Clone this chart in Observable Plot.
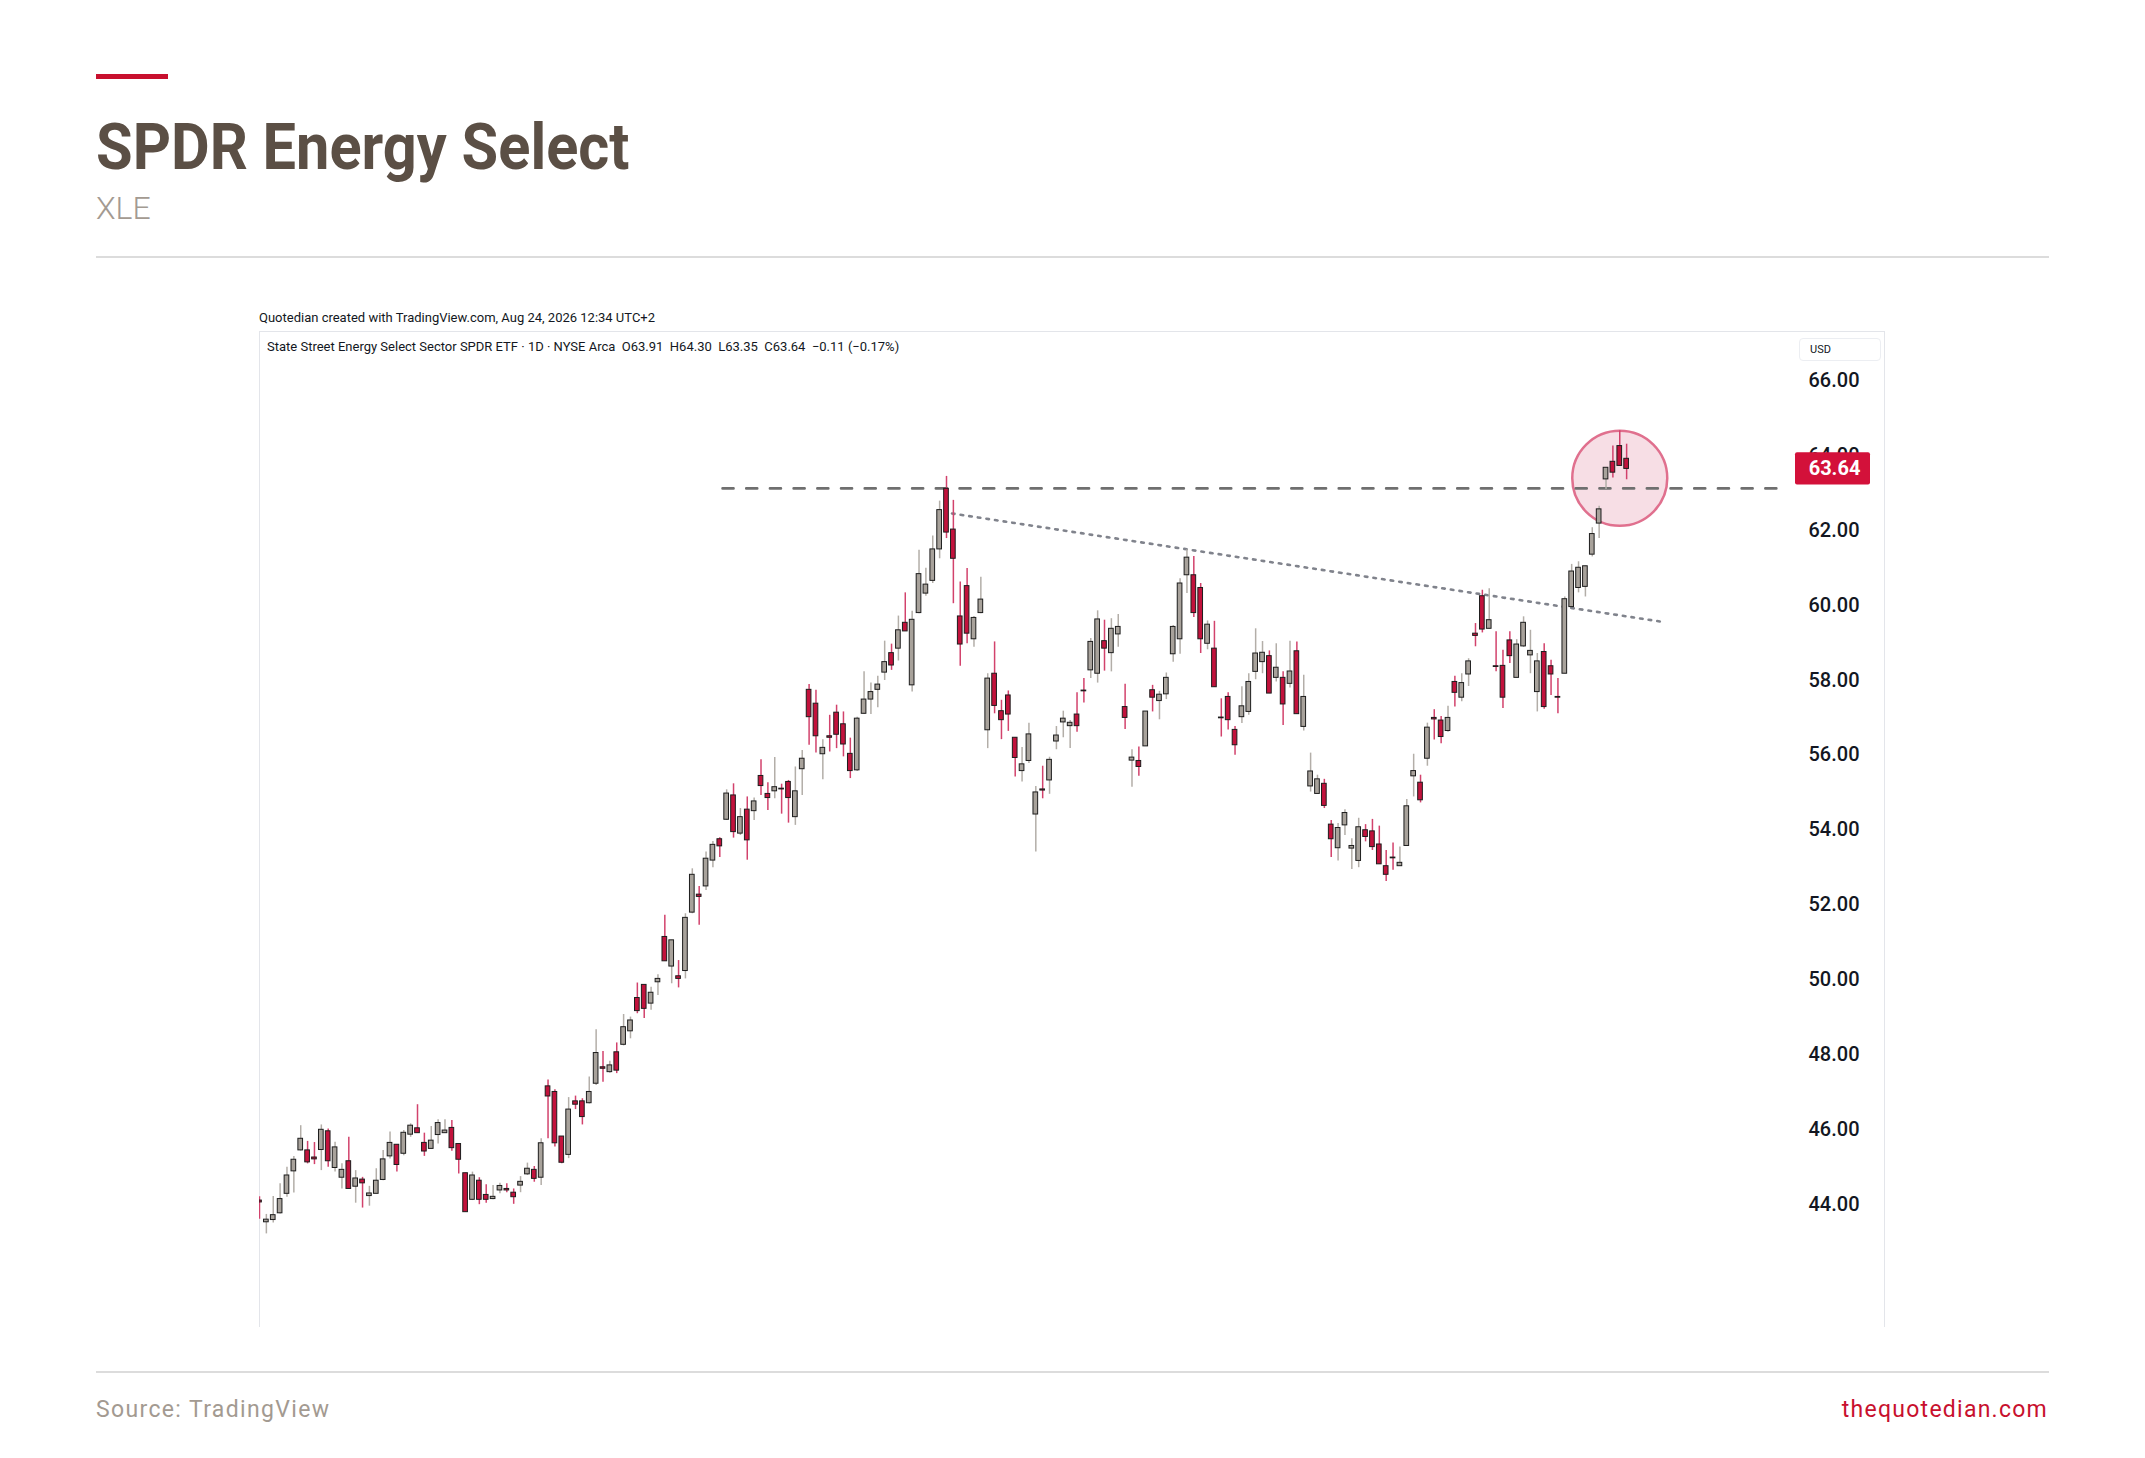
<!DOCTYPE html>
<html><head><meta charset="utf-8">
<script src="https://cdn.jsdelivr.net/npm/d3@7"></script>
<script src="https://cdn.jsdelivr.net/npm/@observablehq/plot@0.6"></script>
<style>
html,body{margin:0;padding:0;background:#fff;}
#page{position:relative;width:2145px;height:1458px;overflow:hidden;font-family:Roboto,"Noto Sans",sans-serif;}
.abs{position:absolute;white-space:nowrap;}
#bar{left:96px;top:74px;width:72px;height:5px;background:#c8102e;}
#title{left:96px;top:116px;font-size:64px;line-height:64px;font-weight:700;color:#5b4f45;transform:scaleX(0.93);transform-origin:left center;}
#sub{left:96px;top:192px;font-size:32px;line-height:32px;font-weight:300;color:#a39a91;}
.rule{height:2px;background:#dcdcdc;left:96px;width:1953px;}
#credit{left:259px;top:311px;font-size:13px;line-height:13px;color:#131722;}
#frame{left:259px;top:331px;width:1626px;height:996px;border-left:1px solid #e3e5ea;border-right:1px solid #e3e5ea;border-top:1px solid #e3e5ea;box-sizing:border-box;}
#legend{left:267px;top:340px;font-size:13px;line-height:13px;color:#131722;}
#usd{left:1799px;top:338px;width:82px;height:23px;box-sizing:border-box;border:1px solid #eceef2;border-radius:4px;font-size:11px;line-height:21px;padding-left:10px;color:#131722;}
#chart{left:259px;top:331px;}
#source{left:96px;top:1398px;font-size:23px;line-height:23px;color:#a39a91;letter-spacing:1.35px;}
#site{right:97px;top:1398px;font-size:23px;line-height:23px;color:#c8102e;letter-spacing:1.25px;}
</style></head>
<body><div id="page">
<div id="bar" class="abs"></div>
<div id="title" class="abs">SPDR Energy Select</div>
<div id="sub" class="abs">XLE</div>
<div class="abs rule" style="top:256px"></div>
<div id="credit" class="abs">Quotedian created with TradingView.com, Aug 24, 2026 12:34 UTC+2</div>
<div id="frame" class="abs"></div>
<div id="chart" class="abs"></div>
<div id="legend" class="abs">State Street Energy Select Sector SPDR ETF · 1D · NYSE Arca&nbsp;&nbsp;O63.91&nbsp;&nbsp;H64.30&nbsp;&nbsp;L63.35&nbsp;&nbsp;C63.64&nbsp;&nbsp;−0.11 (−0.17%)</div>
<div id="usd" class="abs">USD</div>
<div class="abs rule" style="top:1371px"></div>
<div id="source" class="abs">Source: TradingView</div>
<div id="site" class="abs">thequotedian.com</div>
</div>
<script>
const openP = [44.1,43.52,43.58,43.76,44.28,44.88,45.44,45.44,45.25,45.45,45.95,44.97,44.71,45.15,44.47,44.66,44.22,44.28,44.65,45.28,45.59,45.35,45.86,46.03,45.64,45.48,45.85,45.9,46.04,45.61,44.83,44.12,44.63,44.25,44.14,
44.37,44.41,44.31,44.5,44.8,44.92,44.71,47.15,47.0,45.81,45.32,46.75,46.75,46.7,47.22,47.66,47.53,48.06,48.26,48.62,49.51,49.86,49.36,49.93,51.14,50.35,50.09,50.23,51.79,52.27,52.49,53.18,53.75,54.27,
54.92,53.9,54.54,54.5,55.44,54.96,55.03,55.1,55.28,54.34,55.62,57.74,57.37,56.02,56.5,57.13,56.82,56.03,55.59,57.1,57.48,57.74,58.2,58.72,58.84,59.53,57.86,59.79,60.31,60.65,61.49,63.11,62.02,59.7,
60.51,59.09,59.79,56.66,58.17,57.17,57.59,56.46,55.57,55.84,54.41,55.08,55.32,56.36,56.87,56.77,57.08,57.72,58.26,58.17,59.04,58.72,59.22,57.28,55.85,55.84,56.23,57.73,57.44,57.62,58.69,59.09,60.8,
60.8,60.46,58.97,58.84,57.0,57.55,56.67,57.01,57.15,58.22,58.48,58.64,58.06,58.06,57.9,58.77,56.75,55.16,54.96,55.23,54.14,53.51,54.12,53.5,53.17,53.99,53.96,53.61,53.03,53.26,53.03,53.57,55.43,55.26,
55.9,56.99,56.92,56.64,57.95,57.53,58.15,59.24,60.24,59.37,58.37,58.38,59.06,58.06,58.9,58.66,57.68,58.75,58.37,57.55,58.17,59.95,60.46,60.49,61.35,62.18,63.36,63.83,64.25,63.91];
const highP = [44.2,43.73,44.21,44.55,44.99,45.28,46.1,45.68,45.65,46.12,46.01,45.66,45.08,45.79,44.9,44.72,44.48,44.95,45.44,45.93,45.59,45.97,46.15,46.66,45.9,46.08,46.26,46.26,46.24,45.61,44.83,44.86,44.71,44.52,44.5,
44.56,44.55,44.41,44.74,45.1,45.01,45.75,47.32,47.06,45.81,46.85,46.89,46.82,47.4,48.66,48.08,47.82,48.31,49.07,49.0,49.91,49.86,49.8,50.13,51.72,51.05,50.51,51.76,52.96,52.49,53.41,53.69,53.79,55.07,
55.23,54.57,54.88,54.85,55.87,55.26,55.93,55.22,55.32,55.68,56.12,57.88,57.73,56.41,57.06,57.33,57.15,56.45,57.01,58.22,57.92,58.1,59.04,58.96,59.71,60.33,59.84,61.47,60.99,61.85,62.78,63.44,62.8,60.62,
60.98,59.7,60.75,58.17,59.02,57.46,57.71,56.46,56.2,56.85,55.16,55.7,55.94,56.76,57.17,56.92,57.66,58.04,59.11,59.85,59.6,59.64,59.75,57.89,56.14,56.21,57.16,57.86,57.7,58.19,59.46,60.71,61.48,
61.3,60.58,59.58,59.57,57.5,57.66,56.76,57.82,58.17,59.37,59.03,58.78,58.97,58.22,59.04,59.02,58.13,56.05,55.46,55.35,54.25,54.17,54.54,53.76,54.31,54.14,54.28,54.1,53.45,53.65,53.54,54.81,56.02,55.46,
56.85,57.21,57.03,57.3,58.1,58.17,58.57,59.51,60.4,60.44,59.29,58.8,59.29,59.08,59.69,59.33,58.71,58.97,58.53,58.04,60.22,61.09,61.16,61.04,62.07,62.64,63.67,64.25,64.66,64.30];
const lowP = [43.6,43.21,43.5,43.74,44.19,44.3,45.42,45.08,45.06,44.9,44.99,44.86,44.41,44.41,44.03,43.9,43.95,44.28,44.63,45.21,44.86,45.3,45.79,45.9,45.28,45.48,45.61,45.9,45.42,44.81,43.79,44.1,43.99,44.03,44.12,
44.28,44.31,44.0,44.31,44.77,44.59,44.5,45.75,45.53,45.08,45.22,46.53,46.12,46.68,47.17,47.26,47.5,47.49,48.23,48.42,49.09,48.96,49.18,49.58,50.49,49.89,49.78,50.02,51.76,51.45,52.38,52.99,53.26,54.25,
53.78,53.85,53.19,54.25,54.92,54.52,54.83,54.42,54.18,54.12,54.92,56.26,56.05,55.34,56.08,56.17,55.95,55.37,55.56,57.08,57.08,57.26,57.99,58.26,58.51,59.3,57.68,59.77,60.24,60.58,61.24,61.78,60.04,58.37,
58.97,58.88,59.77,56.17,57.1,56.41,56.63,55.41,55.28,55.77,53.41,54.83,54.95,56.14,56.46,56.17,56.61,57.39,58.04,57.92,58.24,58.22,58.88,56.68,55.14,55.43,56.23,57.15,56.94,57.48,58.48,58.69,60.31,
59.67,58.71,58.81,57.81,56.48,56.67,55.99,56.84,57.06,58.01,58.17,57.64,57.95,56.79,57.79,57.09,56.64,55.01,54.96,54.57,53.26,53.17,53.85,52.94,52.99,53.68,53.45,53.08,52.62,52.92,53.03,53.57,54.88,54.72,
55.7,56.4,56.3,56.61,57.28,57.42,57.83,58.89,59.26,59.37,58.22,57.24,58.44,58.06,58.87,58.17,57.15,57.22,57.59,57.1,58.17,59.95,60.33,60.22,61.29,61.78,63.09,63.4,63.71,63.35];
const closeP = [44.05,43.59,43.71,44.14,44.77,45.19,45.75,45.12,45.2,45.99,45.15,45.52,44.92,44.41,44.69,44.56,44.29,44.63,45.2,45.64,45.05,45.91,46.1,45.9,45.41,45.7,46.17,45.97,45.5,45.19,43.79,44.77,44.12,44.12,44.2,
44.49,44.37,44.19,44.6,44.95,44.68,45.63,46.88,45.63,45.11,46.53,46.66,46.33,47.0,48.04,47.62,47.71,47.57,48.73,48.91,49.16,49.22,49.65,50.02,50.49,51.05,50.02,51.65,52.8,52.21,53.23,53.6,53.56,54.97,
53.94,54.34,53.72,54.76,55.17,54.85,55.14,55.08,54.85,55.03,55.9,57.01,56.5,56.19,56.46,56.54,56.28,55.57,56.97,57.48,57.68,57.88,58.48,58.39,59.33,59.3,59.61,60.83,60.55,61.49,62.54,61.94,61.24,58.95,
59.24,59.66,60.15,58.04,57.31,56.93,57.08,55.92,55.75,56.55,55.0,55.05,55.87,56.52,56.97,56.86,56.77,57.7,59.02,59.62,58.84,59.37,59.42,56.99,55.93,55.68,57.16,57.53,57.61,58.06,59.42,60.58,61.27,
59.79,59.09,59.48,57.81,56.98,56.93,56.26,57.3,57.95,58.71,58.73,57.64,58.33,57.35,58.23,57.09,57.55,55.56,55.35,54.64,53.75,54.05,54.45,53.57,54.07,53.81,53.54,53.08,52.8,53.24,53.12,54.63,55.57,54.79,
56.73,56.95,56.48,56.99,57.66,57.92,58.5,59.18,59.35,59.6,58.35,57.53,58.64,58.95,59.53,58.78,58.5,57.28,58.15,57.53,60.16,60.9,61.0,61.04,61.9,62.56,63.67,63.54,63.72,63.64];

const yTicks = [44,46,48,50,52,54,56,58,60,62,64,66];
// annotations (bar index, price)
const resistanceX = [67.4, 222];
const resistanceY = [63.12, 63.12];
const trendX = [100.8, 204.4];
const trendY = [62.45, 59.55];
const circleX = [198.0];
const circleY = [63.39];

const UP_FILL = "#a8a29b", DN_FILL = "#c2123c";
const UP_WICK = "#b3aea8", DN_WICK = "#d2426c";

const candles = openP.map((o, i) => ({i, o, h: highP[i], l: lowP[i], c: closeP[i], up: closeP[i] >= o}));
const last = candles[candles.length - 1];
const resistance = resistanceX.map((x, k) => ({x, y: resistanceY[k]}));
const trend = trendX.map((x, k) => ({x, y: trendY[k]}));
const circle = circleX.map((x, k) => ({x, y: circleY[k]}));

const W = 1627, H = 996, MR = 94;
const barStep = 6.87;
const chart = Plot.plot({
  width: W, height: H,
  marginLeft: 0, marginRight: MR, marginTop: 0, marginBottom: 0,
  x: {domain: [0, (W - MR) / barStep], axis: null},
  y: {domain: [40.71, 67.31], axis: null},
  color: {type: "identity"},
  style: {background: "transparent", overflow: "visible", fontFamily: "Roboto, 'Noto Sans', sans-serif"},
  marks: [
    Plot.dot(circle, {x: "x", y: "y", r: 47.5, fill: "#e8a0b4", fillOpacity: 0.35, stroke: "#e0708e", strokeWidth: 2.5}),
    Plot.line(resistance, {x: "x", y: "y", stroke: "#6f6f6f", strokeWidth: 2.6, strokeDasharray: "11,12.7"}),
    Plot.line(trend, {x: "x", y: "y", stroke: "#80838c", strokeWidth: 2.6, strokeDasharray: "2.6,6.1"}),
    Plot.ruleX(candles, {x: "i", y1: "l", y2: "h", stroke: d => d.up ? UP_WICK : DN_WICK, strokeWidth: 1.5, clip: true}),
    Plot.rect(candles, {
      x1: d => d.i - 0.34, x2: d => d.i + 0.34,
      y1: d => Math.min(d.o, d.c), y2: d => Math.max(d.o, d.c),
      fill: d => d.up ? UP_FILL : DN_FILL, stroke: "#1d1d1d", strokeWidth: 1, clip: true
    }),
    Plot.axisY(yTicks, {anchor: "right", tickSize: 0, tickPadding: 16, tickFormat: d => d.toFixed(2), fontSize: 20, fontWeight: 500, fill: "#131722"}),
    Plot.rect([last], {y1: d => d.c - 0.43, y2: d => d.c + 0.43, fill: "#d3113a", insetLeft: W - MR + 3, insetRight: -78, rx: 2}),
    Plot.text([last], {y: "c", text: d => d.c.toFixed(2), frameAnchor: "right", dx: 42, textAnchor: "middle", fill: "white", fontWeight: 700, fontSize: 20})
  ]
});
document.getElementById("chart").appendChild(chart);
</script>
</body></html>
